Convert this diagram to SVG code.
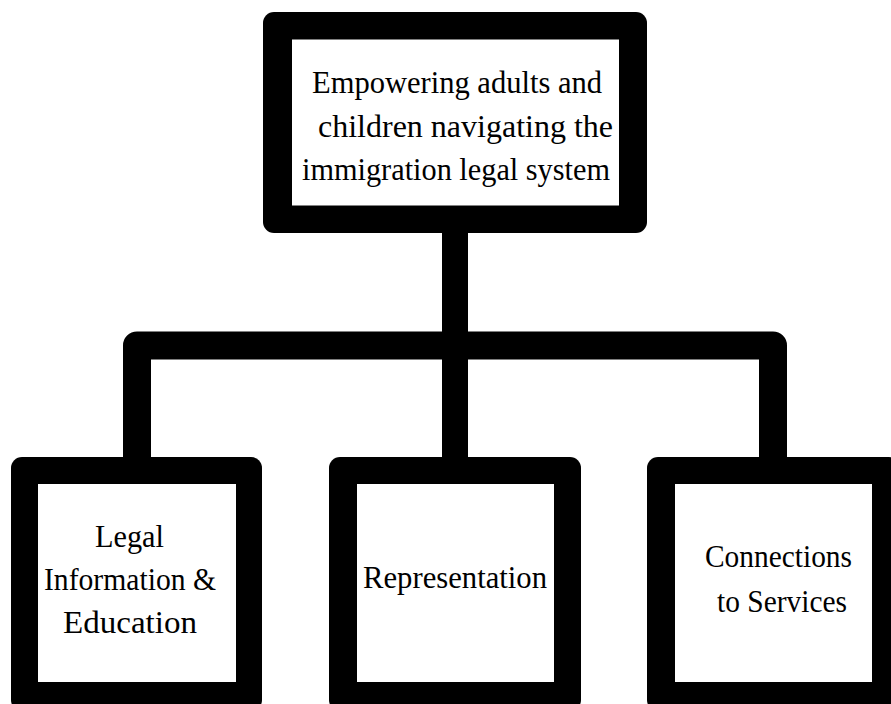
<svg xmlns="http://www.w3.org/2000/svg" width="891" height="704" viewBox="0 0 891 704">
<style>
.frame{fill:#000}
.inner{fill:#fff}
.conn{fill:none;stroke:#000;stroke-linejoin:round}
text{font-family:"Liberation Serif","Times New Roman",serif;font-size:31px;fill:#000;text-anchor:middle}
</style>
<rect width="891" height="704" fill="#fff"/>
<g id="connectors">
<path class="conn" d="M455,230 V460" stroke-width="26"/>
<path class="conn" d="M137,460 V345.5 H773 V460" stroke-width="28"/>
</g>
<g id="node-top">
<rect class="frame" x="263" y="12" width="384" height="221" rx="11"/>
<rect class="inner" x="292" y="39.5" width="327" height="166"/>
<text x="457" y="93" textLength="290" lengthAdjust="spacingAndGlyphs">Empowering adults and</text>
<text x="465.5" y="137" textLength="295" lengthAdjust="spacingAndGlyphs">children navigating the</text>
<text x="456" y="180" textLength="308" lengthAdjust="spacingAndGlyphs">immigration legal system</text>
</g>
<g id="node-legal">
<rect class="frame" x="11" y="457" width="251" height="254" rx="11"/>
<rect class="inner" x="38" y="484" width="198" height="198"/>
<text x="129.5" y="547" textLength="69" lengthAdjust="spacingAndGlyphs">Legal</text>
<text x="130" y="590" textLength="172" lengthAdjust="spacingAndGlyphs">Information &amp;</text>
<text x="130" y="633" textLength="134" lengthAdjust="spacingAndGlyphs">Education</text>
</g>
<g id="node-representation">
<rect class="frame" x="329" y="457" width="252" height="254" rx="11"/>
<rect class="inner" x="357" y="484" width="197" height="198"/>
<text x="455" y="588" textLength="184" lengthAdjust="spacingAndGlyphs">Representation</text>
</g>
<g id="node-connections">
<rect class="frame" x="647" y="457" width="253" height="254" rx="11"/>
<rect class="inner" x="675" y="484" width="197" height="198"/>
<text x="778.5" y="567" textLength="147" lengthAdjust="spacingAndGlyphs">Connections</text>
<text x="782" y="612" textLength="130" lengthAdjust="spacingAndGlyphs">to Services</text>
</g>
</svg>
